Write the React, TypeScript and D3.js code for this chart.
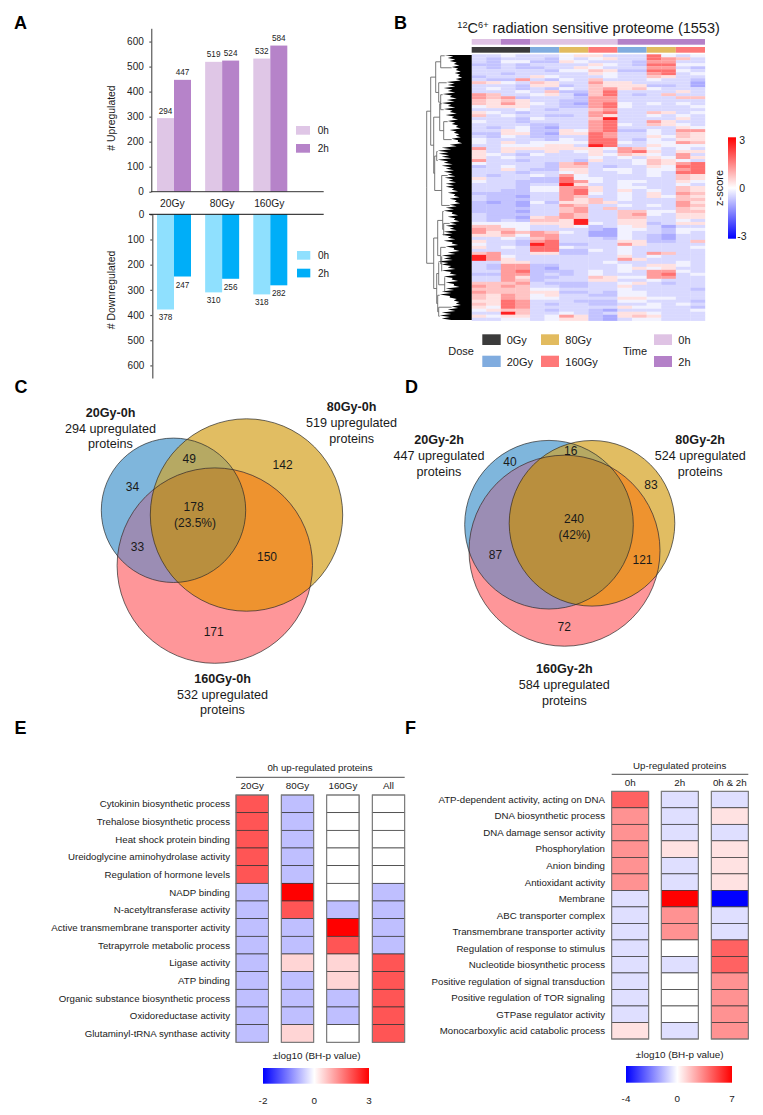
import { useRef, useEffect } from 'react';
import * as d3 from 'd3';

const FONT = "'Liberation Sans', Arial, sans-serif";

// Panel A
const doses = ['20Gy', '80Gy', '160Gy'];
const times = ['0h', '2h'];
const upValues = [[294, 447], [519, 524], [532, 584]];
const downValues = [[378, 247], [310, 256], [318, 282]];
const countTicks = [0, 100, 200, 300, 400, 500, 600];

// Panel B, one string per heatmap band, one digit per sample (pairs are the replicates), digit = index in zLevels
const zLevels = [-1.3, -1.0, -0.7, -0.45, -0.15, 0.35, 0.7, 1.15, 1.7, 2.6];
const heatRows = [
  '33 43 33 45 53 33 84 34', '32 33 32 43 45 33 87 63', '32 44 22 54 33 32 77 33', '22 32 33 33 54 32 88 44',
  '32 32 23 35 43 33 77 32', '33 33 32 44 65 22 88 43', '33 23 33 33 54 33 78 34', '23 33 54 33 34 33 65 33',
  '32 27 32 43 63 33 43 32', '65 43 65 33 75 53 33 31', '33 32 55 23 65 55 22 31', '34 32 32 43 67 56 43 33',
  '33 34 36 22 68 33 33 53', '76 33 45 31 68 32 36 33', '76 72 33 32 77 33 33 66', '65 65 33 22 77 33 33 33',
  '65 75 43 21 78 43 43 43', '45 55 33 22 78 43 33 34', '33 34 32 33 67 33 33 33', '54 32 33 33 78 33 65 34',
  '63 43 32 23 75 33 43 43', '33 32 43 33 69 33 33 53', '43 32 33 33 78 33 75 33', '33 33 22 33 78 43 65 43',
  '32 34 21 33 78 33 33 54', '33 54 22 54 78 22 43 77', '22 55 21 55 87 33 43 65', '32 43 22 33 87 33 54 65',
  '43 33 32 43 88 32 43 55', '43 53 44 44 88 43 44 76', '33 44 45 53 98 33 54 44', '73 55 55 55 54 76 43 43',
  '53 53 35 34 53 78 53 55', '54 32 43 33 54 65 43 73', '53 43 33 33 43 43 54 75', '73 32 33 32 53 34 65 43',
  '43 33 32 67 33 34 65 78', '23 43 32 66 32 33 54 88', '33 53 22 55 34 43 44 78', '33 32 33 45 33 43 43 88',
  '32 33 43 74 33 33 43 65', '53 33 22 84 43 33 33 65', '43 32 22 87 43 44 33 54', '33 32 33 95 33 43 33 43',
  '33 32 44 77 53 44 33 65', '33 22 44 78 53 53 43 65', '22 22 33 78 43 43 53 76', '32 21 33 76 33 43 54 65',
  '32 22 33 75 63 43 33 66', '21 21 42 55 65 33 33 75', '22 21 33 76 33 43 43 76', '22 22 33 67 36 33 33 65',
  '22 21 33 67 33 66 44 66', '32 22 33 76 33 67 43 55', '32 21 56 76 33 66 33 55', '32 32 66 59 33 55 33 43',
  '44 44 55 59 43 55 23 55', '66 44 33 54 23 45 31 33', '76 64 33 33 21 44 32 44', '75 76 76 43 11 43 32 43',
  '55 64 77 33 11 43 21 33', '33 43 67 33 32 43 21 33', '53 32 78 33 33 55 22 36', '43 32 98 22 33 75 33 33',
  '53 43 88 43 33 43 33 34', '33 33 88 22 43 43 33 33', '67 33 55 22 33 43 76 33', '97 43 33 33 33 53 43 33',
  '97 53 33 33 33 75 33 33', '33 55 33 33 34 33 33 43', '32 77 22 33 33 43 55 43', '32 77 21 33 33 45 45 33',
  '33 78 22 23 43 43 77 43', '22 77 23 23 43 33 78 34', '33 75 22 33 65 44 77 33', '33 76 23 33 55 33 43 33',
  '66 67 32 22 33 45 32 33', '76 76 33 22 33 53 33 33', '66 66 44 33 33 43 33 32', '76 66 55 22 32 44 33 33',
  '65 76 45 33 22 44 33 33', '65 76 44 33 33 55 44 33', '55 87 33 32 22 44 33 32', '65 87 32 33 22 33 43 43',
  '54 87 33 33 33 54 43 32', '45 66 32 33 21 33 33 34', '33 96 33 43 23 55 43 33', '54 55 34 75 21 56 53 33',
  '33 44 34 55 21 34 43 33',
];
const heatTime: [string, number][] = [['0h', 2], ['2h', 2], ['0h', 6], ['2h', 6]];
const heatDose: [string, number][] = [['0Gy', 4], ['20Gy', 2], ['80Gy', 2], ['160Gy', 2], ['20Gy', 2], ['80Gy', 2], ['160Gy', 2]];
const dendroEdge = [
  27, 24, 22, 18, 20, 16, 17, 14, 16, 25, 24, 28, 24, 29, 22, 25, 30, 24, 28, 22, 26, 20, 24, 20, 16, 22, 18, 16, 20, 14,
  22, 30, 34, 33, 30, 34, 28, 30, 26, 28, 24, 27, 23, 26, 26, 20, 24, 18, 22, 17, 22, 26, 28, 20, 24, 18, 22, 26, 22, 28,
  30, 24, 28, 20, 26, 18, 24, 30, 28, 34, 30, 24, 30, 22, 28, 20, 26, 18, 26, 30, 32, 22, 18, 16, 20, 24, 30, 32, 30,
];
interface Branch { depth?: number; row?: number; children?: Branch[] }
const dendroTree: Branch = {
  depth: 45,
  children: [
    {
      depth: 41,
      children: [
        {
          depth: 36,
          children: [
            { depth: 31, children: [{ row: 0 }, { row: 4 }] },
            { depth: 33, children: [{ row: 9 }, { depth: 31, children: [{ row: 13 }, { row: 18 }] }] },
          ],
        },
        {
          depth: 38,
          children: [
            { depth: 32, children: [{ row: 16 }, { depth: 28, children: [{ row: 22 }, { row: 28 }] }] },
            { depth: 37, children: [{ depth: 35, children: [{ row: 32 }, { row: 35 }] }, { depth: 30, children: [{ row: 40 }, { row: 50 }] }] },
          ],
        },
      ],
    },
    {
      depth: 38,
      children: [
        {
          depth: 34,
          children: [
            { depth: 29, children: [{ row: 52 }, { depth: 28, children: [{ row: 56 }, { row: 60 }] }] },
            { depth: 31, children: [{ row: 64 }, { depth: 30, children: [{ row: 67 }, { row: 72 }] }] },
          ],
        },
        {
          depth: 35,
          children: [
            { depth: 33, children: [{ row: 69 }, { depth: 27, children: [{ row: 74 }, { row: 79 }] }] },
            { depth: 34, children: [{ row: 80 }, { depth: 33, children: [{ row: 84 }, { row: 87 }] }] },
          ],
        },
      ],
    },
  ],
};

// Panels C and D
const vennCLabels = [
  { title: '20Gy-0h', count: 294 }, { title: '80Gy-0h', count: 519 }, { title: '160Gy-0h', count: 532 },
];
const vennDLabels = [
  { title: '20Gy-2h', count: 447 }, { title: '80Gy-2h', count: 524 }, { title: '160Gy-2h', count: 584 },
];
const vennCCounts = ['49', '34', '142', '178', '(23.5%)', '33', '150', '171'];
const vennDCounts = ['40', '16', '83', '240', '(42%)', '87', '121', '72'];

// Panel E
const termsE = [
  'Cytokinin biosynthetic process', 'Trehalose biosynthetic process', 'Heat shock protein binding',
  'Ureidoglycine aminohydrolase activity', 'Regulation of hormone levels', 'NADP binding',
  'N-acetyltransferase activity', 'Active transmembrane transporter activity', 'Tetrapyrrole metabolic process',
  'Ligase activity', 'ATP binding', 'Organic substance biosynthetic process', 'Oxidoreductase activity',
  'Glutaminyl-tRNA synthase activity',
];
const columnsE = ['20Gy', '80Gy', '160Gy', 'All'];
const valuesE = [
  [2, 2, 2, 2, 2, -0.5, -0.5, -0.5, -0.5, -0.5, -0.5, -0.5, -0.5, -0.5],
  [-0.5, -0.5, -0.5, -0.5, -0.5, 3, 2, -0.5, -0.5, 0.5, -0.5, -0.5, -0.5, 0.5],
  [0, 0, 0, 0, 0, 0, -0.5, 3, 2, 0.5, 0.5, -0.5, -0.5, 0],
  [0, 0, 0, 0, 0, -0.5, -0.5, -0.5, -0.5, 2, 2, 2, 2, 2],
];

// Panel F
const termsF = [
  'ATP-dependent activity, acting on DNA', 'DNA biosynthetic process', 'DNA damage sensor activity', 'Phosphorylation',
  'Anion binding', 'Antioxidant activity', 'Membrane', 'ABC transporter complex', 'Transmembrane transporter activity',
  'Regulation of response to stimulus', 'Nucleotide biosynthetic process', 'Positive regulation of signal transduction',
  'Positive regulation of TOR signaling', 'GTPase regulator activity', 'Monocarboxylic acid catabolic process',
];
const columnsF = ['0h', '2h', '0h & 2h'];
const valuesF = [
  [4.3, 3, 3, 3, 3, 3, -0.5, -0.5, -0.5, -0.5, -0.5, -0.5, -0.5, -0.5, 0.8],
  [-0.5, -0.5, -0.5, 0.8, -0.5, -0.5, 7, 3, 3, 0, -0.5, 0, 0, 0, -0.5],
  [-0.5, 0.8, -0.5, 0.8, 0.8, 0.8, -4, -0.5, -0.5, 4.3, 4.3, 3, 3, 3, 3],
];

type G = d3.Selection<any, unknown, null, undefined>;

function label(g: G, x: number, y: number, s: string, size = 10, anchor = 'start', weight = 'normal') {
  return g.append('text')
    .attr('x', x).attr('y', y).attr('dy', '.35em')
    .attr('font-size', size).attr('font-weight', weight).attr('text-anchor', anchor)
    .attr('fill', '#1a1a1a')
    .text(s);
}

function swatch(g: G, x: number, y: number, w: number, h: number, color: string) {
  g.append('rect').attr('x', x).attr('y', y).attr('width', w).attr('height', h).attr('fill', color);
}

function drawBars(svg: G) {
  const xGroup = d3.scaleBand().domain(doses).range([157, 287.3]).paddingInner(0.294);
  const xTime = d3.scaleBand().domain(times).range([0, xGroup.bandwidth()]);
  const yUp = d3.scaleLinear().domain([0, 653]).range([191.7, 28.3]);
  const yDown = d3.scaleLinear().domain([0, 650]).range([214.3, 378]);
  const upColor = ['#DFC6E6', '#B683C9'];
  const downColor = ['#8FE0FE', '#00AEF8'];

  doses.forEach((dose, i) => {
    times.forEach((_, j) => {
      const x = xGroup(dose)! + xTime(times[j])!;
      const w = xTime.bandwidth();
      const up = upValues[i][j];
      const down = downValues[i][j];
      swatch(svg, x, yUp(up), w, yUp(0) - yUp(up), upColor[j]);
      swatch(svg, x, yDown(0), w, yDown(down) - yDown(0), downColor[j]);
      svg.append('text').attr('x', x + w / 2).attr('y', yUp(up) - 4.5).attr('font-size', 8.2)
        .attr('text-anchor', 'middle').attr('fill', '#222').text(up);
      svg.append('text').attr('x', x + w / 2).attr('y', yDown(down) + 11).attr('font-size', 8.2)
        .attr('text-anchor', 'middle').attr('fill', '#222').text(down);
    });
    label(svg, xGroup(dose)! + xGroup.bandwidth() / 2 + (i === 0 ? -1.7 : i === 2 ? -1 : 0), 203.7, dose, 10.3, 'middle');
  });

  const upAxis = svg.append('g').attr('transform', 'translate(151.3,0)')
    .call(d3.axisLeft(yUp).tickValues(countTicks).tickSize(2).tickSizeOuter(0).tickPadding(5.5));
  const downAxis = svg.append('g').attr('transform', 'translate(152.3,0)')
    .call(d3.axisLeft(yDown).tickValues(countTicks).tickSize(2).tickSizeOuter(0).tickPadding(6));
  upAxis.selectAll('text').attr('font-size', 10).attr('font-family', FONT).attr('fill', '#222');
  downAxis.selectAll('text').attr('font-size', 10).attr('font-family', FONT).attr('fill', '#222');
  upAxis.selectAll('path,line').attr('stroke', '#222').attr('stroke-width', 0.9);
  downAxis.selectAll('path,line').attr('stroke', '#555').attr('stroke-width', 1.2);

  svg.append('line').attr('x1', 151).attr('x2', 323.7).attr('y1', yUp(0)).attr('y2', yUp(0)).attr('stroke', '#333').attr('stroke-width', 1);
  svg.append('line').attr('x1', 149).attr('x2', 323.7).attr('y1', yDown(0)).attr('y2', yDown(0)).attr('stroke', '#111').attr('stroke-width', 1);

  label(svg, 0, 0, '# Upregulated', 10.4, 'middle').attr('transform', 'translate(111,118) rotate(-90)');
  label(svg, 0, 0, '# Downregulated', 10.4, 'middle').attr('transform', 'translate(111,290) rotate(-90)');

  times.forEach((t, j) => {
    swatch(svg, 296, 126 + j * 18, 14, 8.7, upColor[j]);
    label(svg, 317.7, 130.5 + j * 18, t, 10);
    swatch(svg, 297, 251 + j * 17.7, 13.3, 8.7, downColor[j]);
    label(svg, 318, 255.5 + j * 17.7, t, 10);
  });
}

function drawHeatmap(svg: G, defs: G) {
  const col = d3.scaleBand<number>().domain(d3.range(16)).range([471.7, 705]);
  const row = d3.scaleBand<number>().domain(d3.range(heatRows.length)).range([54.3, 320.7]);
  const zColor = d3.scaleLinear<string>().domain([-3, 0, 3]).range(['#0000ff', '#ffffff', '#ff0000']);
  const doseColor: Record<string, string> = { '0Gy': '#3B3B3B', '20Gy': '#80ACDF', '80Gy': '#E2BB5F', '160Gy': '#FE7878' };
  const timeColor: Record<string, string> = { '0h': '#DFC3E4', '2h': '#B481C8' };

  // the original cells are far thinner than a pixel, a small vertical blur keeps the bands soft
  defs.append('filter').attr('id', 'heatSoft').attr('x', 0).attr('width', 1).attr('y', 0).attr('height', 1)
    .append('feGaussianBlur').attr('stdDeviation', '0.15 0.7');
  const cells = svg.append('g').attr('filter', 'url(#heatSoft)');
  heatRows.forEach((r, i) => {
    r.replace(/ /g, '').split('').forEach((d, j) => {
      cells.append('rect').attr('x', col(j)!).attr('y', row(i)!)
        .attr('width', col.bandwidth() + 0.2).attr('height', row.bandwidth() + 0.2)
        .attr('fill', zColor(zLevels[+d]));
    });
  });

  // annotation strips above the heatmap
  let start = 0;
  heatTime.forEach(([t, n]) => {
    swatch(svg, col(start)!, 39, col.bandwidth() * n, 5.7, timeColor[t]);
    start += n;
  });
  start = 0;
  heatDose.forEach(([t, n]) => {
    swatch(svg, col(start)!, 47, col.bandwidth() * n, 5.7, doseColor[t]);
    start += n;
  });

  // dendrogram: solid black fan with toothed edge plus the upper branches
  const dx = d3.scaleLinear().domain([0, 45]).range([471.7, 426.7]);
  const teeth = dendroEdge.flatMap((d, i) => [
    { y: row(i)! + row.bandwidth() * 0.25, d },
    { y: row(i)! + row.bandwidth() * 0.75, d: d * 0.68 },
  ]);
  const fan = d3.area<{ y: number; d: number }>()
    .x0(t => dx(t.d))
    .x1(dx(0))
    .y(t => t.y);
  svg.append('path').datum(teeth).attr('d', fan).attr('fill', '#000');

  const tree = d3.hierarchy<Branch>(dendroTree);
  const rowMid = (n: d3.HierarchyNode<Branch>): number => {
    if (n.data.row !== undefined) return row(n.data.row)! + row.bandwidth() / 2;
    const kids = n.children!;
    return (rowMid(kids[0]) + rowMid(kids[kids.length - 1])) / 2;
  };
  const nodeDepth = (n: d3.HierarchyNode<Branch>) => (n.data.row !== undefined ? dendroEdge[n.data.row] : n.data.depth!);
  const links = tree.links().map(l => {
    const sy = rowMid(l.source);
    const ty = rowMid(l.target);
    const p = d3.path();
    p.moveTo(dx(nodeDepth(l.source)), sy);
    p.lineTo(dx(nodeDepth(l.source)), ty);
    p.lineTo(dx(Math.min(nodeDepth(l.target), nodeDepth(l.source))), ty);
    return p.toString();
  });
  svg.append('g').selectAll('path').data(links).enter().append('path')
    .attr('d', d => d).attr('fill', 'none').attr('stroke', '#555').attr('stroke-width', 0.8);

  // title
  const title = svg.append('text').attr('x', 457.3).attr('y', 32.7).attr('font-size', 14.5).attr('fill', '#1a1a1a');
  title.append('tspan').attr('font-size', 9.2).attr('dy', -5).text('12');
  title.append('tspan').attr('dy', 5).text('C');
  title.append('tspan').attr('font-size', 9.2).attr('dy', -5).text('6+');
  title.append('tspan').attr('dy', 5).text(' radiation sensitive proteome (1553)');

  // z-score key
  const grad = defs.append('linearGradient').attr('id', 'zKey').attr('x1', 0).attr('x2', 0).attr('y1', 0).attr('y2', 1);
  [3, 0, -3].forEach((z, i) => grad.append('stop').attr('offset', i / 2).attr('stop-color', zColor(z)));
  svg.append('rect').attr('x', 728).attr('y', 137.3).attr('width', 8).attr('height', 101.4).attr('fill', 'url(#zKey)');
  label(svg, 739.3, 140, '3', 10.5);
  label(svg, 739.3, 188, '0', 10.5);
  label(svg, 737.3, 236, '-3', 10.5);
  label(svg, 0, 0, 'z-score', 11, 'middle').attr('transform', 'translate(719.3,188) rotate(-90)');

  // dose and time key
  label(svg, 448.3, 351, 'Dose', 11);
  label(svg, 623, 351, 'Time', 11);
  swatch(svg, 482.3, 334.3, 18.4, 10.7, doseColor['0Gy']);
  swatch(svg, 482.3, 355.7, 18.4, 11.3, doseColor['20Gy']);
  swatch(svg, 541, 334.3, 18, 10.7, doseColor['80Gy']);
  swatch(svg, 541, 355.7, 18, 11.3, doseColor['160Gy']);
  label(svg, 506.7, 340, '0Gy', 11);
  label(svg, 506.7, 362, '20Gy', 11);
  label(svg, 565.3, 340, '80Gy', 11);
  label(svg, 565.3, 362, '160Gy', 11);
  swatch(svg, 654, 334.3, 18, 10.7, timeColor['0h']);
  swatch(svg, 654, 356, 18, 11, timeColor['2h']);
  label(svg, 678.3, 340, '0h', 11);
  label(svg, 678.3, 362, '2h', 11);
}

interface Circle { cx: number; cy: number; r: number }

function drawVenn(svg: G, defs: G, id: string, circles: Circle[], heads: { title: string; count: number }[],
  headPos: [number, number][], counts: string[], countPos: [number, number][]) {
  const fills = ['#7FB6DC', '#E1BD62', '#FE9699'];
  const [blue, yellow] = circles;
  circles.forEach((c, i) => {
    defs.append('clipPath').attr('id', `${id}${i}`).append('circle').attr('cx', c.cx).attr('cy', c.cy).attr('r', c.r);
  });
  const disc = (g: G, c: Circle, fill: string) => g.append('circle').attr('cx', c.cx).attr('cy', c.cy).attr('r', c.r).attr('fill', fill);
  circles.forEach((c, i) => disc(svg, c, fills[i]));
  disc(svg.append('g').attr('clip-path', `url(#${id}1)`), blue, '#B6A963');
  disc(svg.append('g').attr('clip-path', `url(#${id}2)`), blue, '#9B8DB4');
  disc(svg.append('g').attr('clip-path', `url(#${id}2)`), yellow, '#EE932F');
  disc(svg.append('g').attr('clip-path', `url(#${id}2)`).append('g').attr('clip-path', `url(#${id}1)`), blue, '#B98F3E');
  circles.forEach(c => disc(svg, c, 'none').attr('stroke', '#2b2b2b').attr('stroke-width', 0.7));

  heads.forEach((h, i) => {
    const [x, y] = headPos[i];
    label(svg, x, y, h.title, 12.6, 'middle', 'bold');
    label(svg, x, y + 15.8, `${h.count} upregulated`, 12.6, 'middle');
    label(svg, x, y + 31.6, 'proteins', 12.6, 'middle');
  });
  counts.forEach((c, i) => label(svg, countPos[i][0], countPos[i][1], c, 12, 'middle'));
}

function drawEnrichment(svg: G, defs: G, id: string, opts: {
  terms: string[]; columns: string[]; values: number[][]; domain: [number, number];
  colX: number[]; colW: number; top: number; bottom: number; labelX: number; header: string; headerX: number; headerY: number;
  ruleY: number; subY: number; keyTitleY: number; keyX: [number, number, number]; keyY: number; keyH: number; keyLabelY: number;
}) {
  const { terms, columns, values, domain, colX, colW, top, bottom } = opts;
  const color = d3.scaleLinear<string>().domain([domain[0], 0, domain[1]]).range(['#0000ff', '#ffffff', '#ff0000']);
  const y = d3.scaleBand().domain(terms).range([top, bottom]);

  terms.forEach(t => label(svg, opts.labelX, y(t)! + y.bandwidth() / 2, t, 9.7, 'end'));
  columns.forEach((c, i) => {
    terms.forEach((t, k) => {
      svg.append('rect').attr('x', colX[i]).attr('y', y(t)!).attr('width', colW).attr('height', y.bandwidth())
        .attr('fill', color(values[i][k])).attr('stroke', '#333').attr('stroke-width', 0.7);
    });
    svg.append('rect').attr('x', colX[i]).attr('y', top).attr('width', colW).attr('height', bottom - top)
      .attr('fill', 'none').attr('stroke', '#808080').attr('stroke-width', 1);
    label(svg, colX[i] + colW / 2, opts.subY, c, 9.8, 'middle');
  });

  label(svg, opts.headerX, opts.headerY, opts.header, 9.7, 'middle');
  svg.append('line').attr('x1', colX[0]).attr('x2', colX[colX.length - 1] + colW)
    .attr('y1', opts.ruleY).attr('y2', opts.ruleY).attr('stroke', '#222').attr('stroke-width', 0.8);

  const keyScale = d3.scaleLinear().domain([domain[0], 0, domain[1]]).range(opts.keyX);
  const [k0, k1, k2] = opts.keyX;
  const grad = defs.append('linearGradient').attr('id', id);
  [domain[0], 0, domain[1]].forEach(v => {
    grad.append('stop').attr('offset', (keyScale(v) - k0) / (k2 - k0)).attr('stop-color', color(v));
  });
  svg.append('rect').attr('x', k0).attr('y', opts.keyY).attr('width', k2 - k0).attr('height', opts.keyH).attr('fill', `url(#${id})`);
  label(svg, opts.headerX - (id === 'keyE' ? 3.3 : 0), opts.keyTitleY, '±log10 (BH-p value)', 9.9, 'middle');
  [domain[0], 0, domain[1]].forEach((v, i) => {
    label(svg, [k0, k1, k2][i], opts.keyLabelY, String(v), 9.9, 'middle');
  });
}

export default function App() {
  const svgRef = useRef<SVGSVGElement | null>(null);

  useEffect(() => {
    if (!svgRef.current) return;
    d3.select(svgRef.current).selectAll('*').remove();

    const svg = d3.select(svgRef.current).attr('font-family', FONT) as unknown as G;
    const defs = svg.append('defs');

    ([['A', 14, 29.3], ['B', 394, 29.3], ['C', 14.5, 393], ['D', 405, 393], ['E', 14.5, 734], ['F', 405, 734]] as [string, number, number][])
      .forEach(([s, x, y]) => {
        svg.append('text').attr('x', x).attr('y', y).attr('font-size', 18).attr('font-weight', 'bold').attr('fill', '#000').text(s);
      });

    drawBars(svg);
    drawHeatmap(svg, defs);

    drawVenn(svg, defs, 'vc',
      [{ cx: 173.5, cy: 510.3, r: 72.2 }, { cx: 246.5, cy: 515, r: 96.2 }, { cx: 214.8, cy: 565.6, r: 97.7 }],
      vennCLabels, [[110.5, 412.3], [351.6, 406.7], [222.5, 678.3]],
      vennCCounts, [[189.2, 459], [132.5, 487], [282.6, 464.7], [193.6, 506.7], [195, 522.7], [137.4, 546.7], [267, 556.7], [213.7, 631.3]]);
    drawVenn(svg, defs, 'vd',
      [{ cx: 549, cy: 524.7, r: 84.3 }, { cx: 592, cy: 523.3, r: 82.8 }, { cx: 564.5, cy: 550.7, r: 95.5 }],
      vennDLabels, [[439, 439.7], [700.2, 439.7], [564.3, 669]],
      vennDCounts, [[510, 462], [570.7, 451], [650.9, 484.7], [574, 518.3], [574.6, 534.3], [495.4, 554.7], [642.5, 559.7], [564.3, 627]]);

    drawEnrichment(svg, defs, 'keyE', {
      terms: termsE, columns: columnsE, values: valuesE, domain: [-2, 3],
      colX: [236, 281.3, 326.7, 372.3], colW: 32.4, top: 795, bottom: 1042.3, labelX: 230,
      header: '0h up-regulated proteins', headerX: 320, headerY: 767.7, ruleY: 777.3, subY: 785.7,
      keyTitleY: 1056, keyX: [263, 314.3, 369], keyY: 1068, keyH: 15.7, keyLabelY: 1100.3,
    });
    drawEnrichment(svg, defs, 'keyF', {
      terms: termsF, columns: columnsF, values: valuesF, domain: [-4, 7],
      colX: [611.7, 661.3, 711.3], colW: 37, top: 791.3, bottom: 1039, labelX: 605,
      header: 'Up-regulated proteins', headerX: 679.7, headerY: 765.7, ruleY: 774.3, subY: 782.3,
      keyTitleY: 1055, keyX: [626, 677.3, 732], keyY: 1066, keyH: 16.7, keyLabelY: 1099,
    });
  }, []);

  return <svg ref={svgRef} width={763} height={1115} style={{ position: 'absolute', left: 0, top: 0, background: '#fff' }} />;
}
